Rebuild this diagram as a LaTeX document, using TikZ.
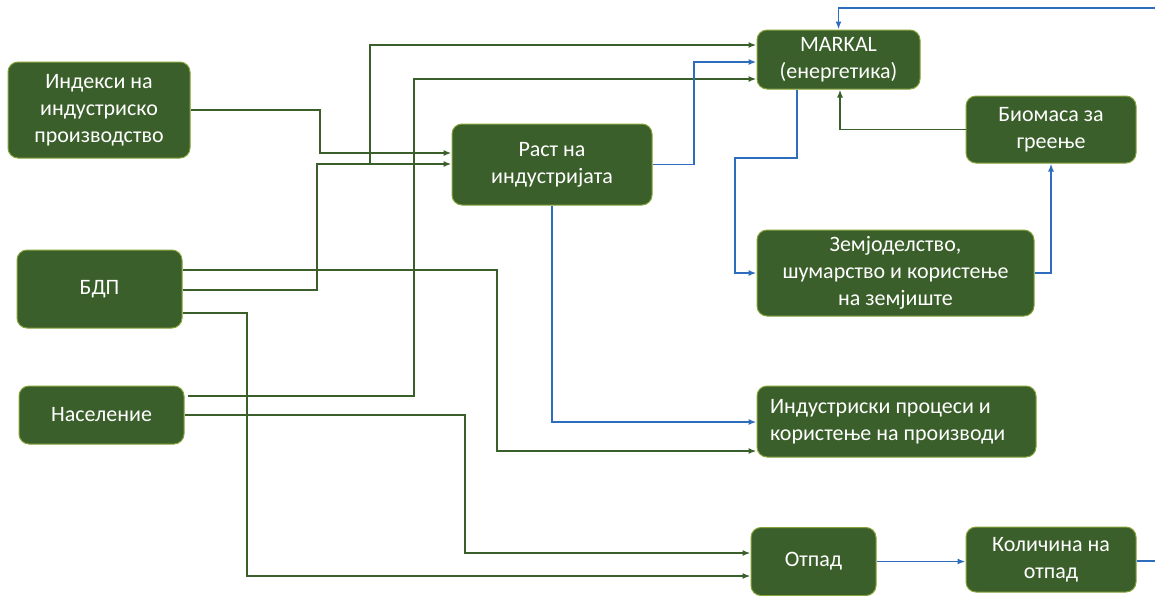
\documentclass[tikz,border=0pt]{standalone}
\usepackage{fontspec}
\setmainfont{Carlito}
\usetikzlibrary{arrows.meta}

\definecolor{boxfill}{HTML}{3B5F2B}
\definecolor{boxline}{HTML}{86A33A}
\definecolor{greenline}{HTML}{3B5F2B}
\definecolor{blueline}{HTML}{2E6DBE}

\begin{document}
\begin{tikzpicture}[x=1pt,y=-1pt,
  box/.style={draw=boxline, line width=1pt, fill=boxfill, rounded corners=10pt,
    text=white, align=center, inner sep=0pt,
    font=\fontsize{22}{27}\selectfont},
  gline/.style={draw=greenline, line width=1.8pt, -{Latex[length=8pt,width=6pt]}},
  bline/.style={draw=blueline, line width=1.8pt, -{Latex[length=8pt,width=6pt]}}]
  \useasboundingbox (0,0) rectangle (1155,595);

  % Inputs on the left
  \node[box, minimum width=182pt, minimum height=96pt] (ind) at (99,110)
    {Индекси на\\индустриско\\производство};
  \node[box, minimum width=165pt, minimum height=78pt] (bdp) at (99.5,289) {БДП};
  \node[box, minimum width=165pt, minimum height=58pt] (nas) at (101.5,415) {Население};

  % Models
  \node[box, minimum width=200pt, minimum height=81pt] (rast) at (552,164.5)
    {Раст на\\индустријата};
  \node[box, minimum width=163pt, minimum height=59pt] (markal) at (838.5,59.5)
    {MARKAL\\(енергетика)};
  \node[box, minimum width=170pt, minimum height=67pt] (bio) at (1051,129.5)
    {Биомаса за\\греење};
  \node[box, minimum width=277pt, minimum height=86pt] (zem) at (895.5,273)
    {Земјоделство,\\шумарство и користење\\на земјиште};
  \node[box, align=flush left, inner xsep=13pt, text width=253pt, minimum height=71pt] (proc)
    at (896.5,421.5) {Индустриски процеси и\\користење на производи};
  \node[box, minimum width=125pt, minimum height=68pt] (otpad) at (813.5,561.5) {Отпад};
  \node[box, minimum width=170pt, minimum height=65pt] (kol) at (1051,559.5)
    {Количина на\\отпад};

  \coordinate (split) at (370,164);
  \coordinate (edgetop) at (1155,8);
  \coordinate (edgebot) at (1155,561);

  % Green connectors
  \draw[gline] (ind.east) -| (320,153) -- (rast.west |- 0,153);
  \draw[gline] (bdp.east |- 0,290) -| (317,164) -- (rast.west |- 0,164);
  \draw[gline] (split) |- (markal.west |- 0,45);
  \draw[gline] (bdp.east |- 0,270) -| (497,451) -- (proc.west |- 0,451);
  \draw[gline] (bdp.east |- 0,313) -| (247,576) -- (otpad.west |- 0,576);
  \draw[gline] (188,396) -| (414,79) -- (markal.west |- 0,79);
  \draw[gline] (nas.east) -| (465,553) -- (otpad.west |- 0,553);
  \draw[gline] (bio.west) -| (markal.south -| 840,0);

  % Blue connectors
  \draw[bline] (rast.east) -| (694,62) -- (markal.west |- 0,62);
  \draw[bline] (rast.south) |- (proc.west |- 0,422);
  \draw[bline] (markal.south -| 797,0) |- (735,158) |- (zem.west);
  \draw[bline] (zem.east) -| (bio.south);
  \draw[bline] (edgetop) -| (markal.north);
  \draw[bline] (otpad.east) -- (otpad.east -| kol.west);
  \draw[draw=blueline, line width=1.8pt] (kol.east |- edgebot) -- (edgebot);
\end{tikzpicture}
\end{document}
